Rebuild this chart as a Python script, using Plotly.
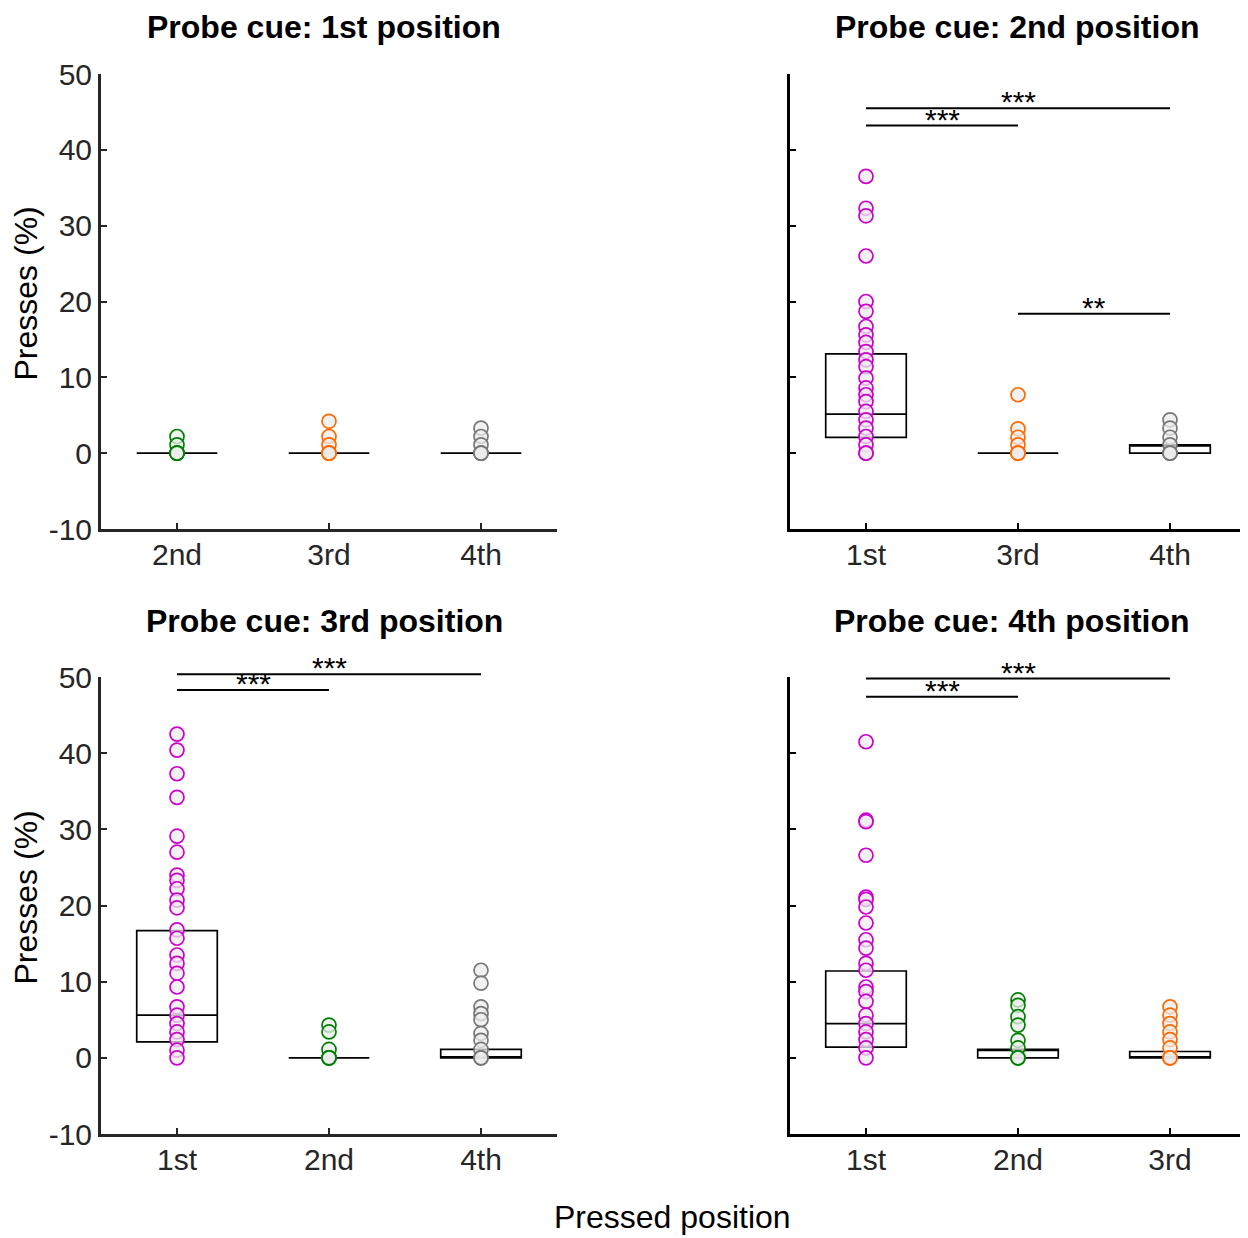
import plotly.graph_objects as go

# ---------------- data ----------------
titles = ["Probe cue: 1st position", "Probe cue: 2nd position",
          "Probe cue: 3rd position", "Probe cue: 4th position"]
cats_p1 = ["2nd", "3rd", "4th"]
cats_p2 = ["1st", "3rd", "4th"]
cats_p3 = ["1st", "2nd", "4th"]
cats_p4 = ["1st", "2nd", "3rd"]
y_ticks = [-10, 0, 10, 20, 30, 40, 50]

# probe cue 1st
p1_2nd = [2.2, 1.1, 0, 0, 0, 0]
p1_3rd = [4.2, 2.2, 1.1, 0, 0, 0]
p1_4th = [3.3, 2.2, 1.1, 0, 0, 0]
# probe cue 2nd
p2_1st = [36.5, 32.3, 31.3, 26.0, 20.0, 18.7, 16.7, 15.6, 14.6, 13.4, 12.3, 11.4,
          9.9, 8.6, 7.7, 6.8, 5.5, 4.4, 3.3, 2.2, 1.1, 0, 0]
p2_3rd = [7.7, 3.2, 2.1, 1.1, 0, 0, 0]
p2_4th = [4.4, 3.3, 2.1, 1.1, 0, 0, 0]
# probe cue 3rd
p3_1st = [42.5, 40.4, 37.3, 34.2, 29.1, 27.0, 24.0, 23.3, 22.2, 20.7, 19.7, 16.8,
          15.7, 13.5, 12.4, 11.1, 9.3, 6.7, 5.6, 4.5, 3.4, 2.4, 1.0, 0]
p3_2nd = [4.3, 3.4, 1.1, 0, 0, 0]
p3_4th = [11.5, 9.8, 6.7, 5.8, 5.0, 3.2, 2.3, 1.1, 0, 0]
# probe cue 4th
p4_1st = [41.5, 31.2, 31.0, 26.6, 21.1, 20.8, 19.8, 17.7, 15.5, 14.4, 12.4, 11.5,
          9.3, 8.7, 7.4, 5.6, 4.5, 3.4, 2.4, 1.3, 0]
p4_2nd = [7.6, 6.9, 5.4, 4.3, 2.3, 1.3, 0, 0]
p4_3rd = [6.7, 5.6, 4.5, 3.4, 2.4, 1.3, 0, 0]

# box statistics (q1, median, q3) per category
box_q1_p1 = [0, 0, 0]
box_med_p1 = [0, 0, 0]
box_q3_p1 = [0, 0, 0]
box_q1_p2 = [2.07, 0, 0]
box_med_p2 = [5.14, 0, 1.1]
box_q3_p2 = [13.1, 0, 1.1]
box_q1_p3 = [2.1, 0, 0]
box_med_p3 = [5.6, 0, 0]
box_q3_p3 = [16.7, 0, 1.1]
box_q1_p4 = [1.4, 0, 0]
box_med_p4 = [4.5, 1.1, 0]
box_q3_p4 = [11.4, 1.1, 0.83]

# significance brackets
sig_panel = [1, 1, 1, 2, 2, 3, 3]
sig_from = [1, 1, 2, 1, 1, 1, 1]
sig_to = [3, 2, 3, 3, 2, 3, 2]
sig_level = [45.5, 43.2, 18.4, 50.35, 48.3, 49.8, 47.4]
sig_label = ["***", "***", "**", "***", "***", "***", "***"]

# ---------------- style ----------------
OFF = 8  # page body margin
W, H = 1248 - OFF, 1238 - OFF


def px(x):
    return (x - OFF) / W


def py(y):
    return 1 - (y - OFF) / H


pos_color = {"1st": "#CC00CC", "2nd": "#008000", "3rd": "#FF6A00", "4th": "#777777"}
FONT = "Arial, Liberation Sans, sans-serif"

x_doms = [[px(101), px(557)], [px(790), px(1246)], [px(101), px(557)], [px(790), px(1246)]]
top_dom = [py(529), py(74)]
bot_dom = [py(1134), py(677)]
y_doms = [top_dom, top_dom, bot_dom, bot_dom]
title_x = [324, 1017, 324, 1012]
title_y = [27, 27, 621, 621]
y_range = [-10, 50]

panels_cats = [cats_p1, cats_p2, cats_p3, cats_p4]
panels_vals = [[p1_2nd, p1_3rd, p1_4th], [p2_1st, p2_3rd, p2_4th],
               [p3_1st, p3_2nd, p3_4th], [p4_1st, p4_2nd, p4_3rd]]
panels_q1 = [box_q1_p1, box_q1_p2, box_q1_p3, box_q1_p4]
panels_med = [box_med_p1, box_med_p2, box_med_p3, box_med_p4]
panels_q3 = [box_q3_p1, box_q3_p2, box_q3_p3, box_q3_p4]

fig = go.Figure()

for k in range(4):
    xa = "x" if k == 0 else f"x{k+1}"
    ya = "y" if k == 0 else f"y{k+1}"
    cats = panels_cats[k]
    for i, c in enumerate(cats):
        fig.add_trace(go.Box(
            x=[i + 1], q1=[panels_q1[k][i]], median=[panels_med[k][i]], q3=[panels_q3[k][i]],
            lowerfence=[panels_q1[k][i]], upperfence=[panels_q3[k][i]],
            width=0.53, whiskerwidth=0, boxpoints=False,
            fillcolor="rgba(255,255,255,0)", line=dict(color="black", width=1.7),
            xaxis=xa, yaxis=ya, showlegend=False, hoverinfo="skip"))
    for i, c in enumerate(cats):
        vals = panels_vals[k][i]
        fig.add_trace(go.Scatter(
            x=[i + 1] * len(vals), y=vals, mode="markers",
            marker=dict(symbol="circle", size=14, color="rgba(236,236,236,0.75)",
                        line=dict(color=pos_color[c], width=1.7)),
            xaxis=xa, yaxis=ya, showlegend=False, cliponaxis=False))

layout = dict(
    template="none",
    width=W, height=H, margin=dict(l=0, r=0, t=0, b=0, pad=0),
    paper_bgcolor="white", plot_bgcolor="white",
    font=dict(family=FONT, size=30, color="#262626"),
    showlegend=False,
)
annotations = []
shapes = []
for k in range(4):
    sx = "" if k == 0 else str(k + 1)
    left = k in (0, 2)
    lc = "#262626" if left else "black"
    layout["xaxis" + sx] = dict(
        domain=x_doms[k], anchor="y" + sx, range=[0.5, 3.5], automargin=False,
        tickvals=[1, 2, 3], ticktext=panels_cats[k], ticklabelstandoff=-3,
        showline=True, linewidth=3, linecolor=lc, ticks="inside", ticklen=6,
        tickwidth=2, tickcolor=lc, showgrid=False, zeroline=False,
        tickfont=dict(size=30, color="#262626", family=FONT), fixedrange=True)
    layout["yaxis" + sx] = dict(
        domain=y_doms[k], anchor="x" + sx, range=y_range, automargin=False,
        tickvals=y_ticks, ticktext=[str(v) for v in y_ticks],
        showticklabels=left,
        showline=True, linewidth=3, linecolor=lc, ticks="inside", ticklen=6,
        tickwidth=2, tickcolor=lc, showgrid=False, zeroline=False,
        tickfont=dict(size=30, color="#262626", family=FONT), fixedrange=True)
    annotations.append(dict(
        text="<b>" + titles[k] + "</b>", xref="paper", yref="paper",
        x=px(title_x[k]), y=py(title_y[k]),
        xanchor="center", yanchor="middle", showarrow=False,
        font=dict(size=32, color="black", family=FONT)))


def to_paper(v, dom):
    return dom[0] + (v - y_range[0]) / (y_range[1] - y_range[0]) * (dom[1] - dom[0])


for j in range(len(sig_panel)):
    k = sig_panel[j]
    sx = "" if k == 0 else str(k + 1)
    yp = to_paper(sig_level[j], y_doms[k])
    shapes.append(dict(type="line", xref="x" + sx, yref="paper",
                       x0=sig_from[j], x1=sig_to[j], y0=yp, y1=yp,
                       line=dict(color="black", width=2)))
    annotations.append(dict(
        text=sig_label[j], xref="x" + sx, yref="paper",
        x=(sig_from[j] + sig_to[j]) / 2, y=yp, xanchor="center", yanchor="bottom",
        yshift=-12, showarrow=False, font=dict(size=30, color="black", family=FONT)))

for dom in (top_dom, bot_dom):
    annotations.append(dict(
        text="Presses (%)", xref="paper", yref="paper", x=px(25),
        y=(dom[0] + dom[1]) / 2 + 8 / H, textangle=-90,
        xanchor="center", yanchor="middle", showarrow=False,
        font=dict(size=32, color="black", family=FONT)))
annotations.append(dict(
    text="Pressed position", xref="paper", yref="paper", x=px(672), y=py(1217),
    xanchor="center", yanchor="middle", showarrow=False,
    font=dict(size=32, color="black", family=FONT)))

layout["annotations"] = annotations
layout["shapes"] = shapes
fig.update_layout(**layout)
fig.write_html("out.html")
